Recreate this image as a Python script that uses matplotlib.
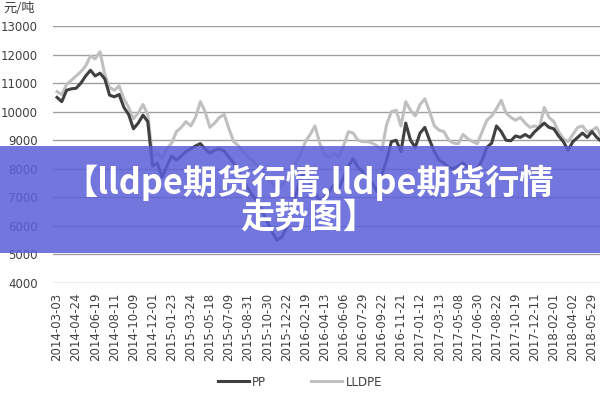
import numpy as np
import matplotlib
matplotlib.use("Agg")
import matplotlib.pyplot as plt
from matplotlib.patches import Rectangle

plt.rcParams['font.family'] = ['DejaVu Sans', 'Noto Sans CJK SC']

# tick labels (one every 4 samples)
tick_labels = [
    "2014-03-03", "2014-04-24", "2014-06-19", "2014-08-11", "2014-10-09", "2014-12-01",
    "2015-01-23", "2015-03-24", "2015-05-18", "2015-07-09", "2015-08-31", "2015-10-30",
    "2015-12-22", "2016-02-19", "2016-04-13", "2016-06-06", "2016-07-29", "2016-09-22",
    "2016-11-21", "2017-01-12", "2017-03-13", "2017-05-08", "2017-06-30", "2017-08-22",
    "2017-10-19", "2017-12-11", "2018-02-01", "2018-04-02", "2018-05-29",
]

# prices, yuan / ton
pp = [
    10500, 10350, 10750, 10800, 10820, 11000, 11250, 11450, 11250, 11350,
    11150, 10580, 10520, 10600, 10150, 9900, 9400, 9600, 9880, 9650,
    8100, 8200, 7700, 8100, 8450, 8300, 8450, 8600, 8700, 8800,
    8880, 8700, 8550, 8650, 8700, 8620, 8400, 8200, 7900, 7600,
    7300, 7050, 6850, 6500, 6150, 5800, 5500, 5600, 5900, 6500,
    7100, 7700, 7900, 7500, 7200, 6850, 7000, 7200, 7450, 7300,
    7700, 8100, 8350, 8050, 7900, 7650, 7500, 7200, 7800, 8300,
    8950, 9000, 8600, 9600, 9000, 8750, 9250, 9450, 9000, 8600,
    8300, 8200, 8050, 8000, 8100, 8200, 8050, 7950, 8000, 8300,
    8750, 8900, 9500, 9300, 9000, 8980, 9150, 9100, 9200, 9100,
    9300, 9450, 9600, 9450, 9400, 9150, 8950, 8650, 8950, 9100,
    9250, 9100, 9300, 9100, 8950,
]
lldpe = [
    10700, 10600, 10950, 11100, 11250, 11400, 11600, 11950, 11850, 12100,
    11300, 10850, 10750, 10900, 10450, 10150, 9750, 9950, 10250, 9900,
    8400, 8550, 8350, 8700, 8900, 9300, 9450, 9650, 9500, 9800,
    10350, 10000, 9450, 9600, 9800, 9900, 9400, 8950, 8800, 8600,
    8400, 8300, 8100, 7900, 7700, 7500, 7300, 7400, 7600, 7900,
    8200, 8500, 8950, 9200, 9500, 8900, 8500, 8400, 8550, 8400,
    8800, 9300, 9250, 9000, 8950, 8950, 8900, 8800, 8650, 9550,
    10000, 10050, 9500, 10350, 10050, 9850, 10250, 10450, 10000, 9500,
    9350, 9300, 9000, 8900, 8880, 9200, 9050, 8950, 8880, 9300,
    9700, 9850, 10100, 10400, 9950, 9800, 9700, 9800, 9600, 9450,
    9500, 9450, 10150, 9800, 9650, 9300, 9050, 8950, 9200, 9450,
    9500, 9280, 9350, 9450, 9100,
]
yticks = [4000, 5000, 6000, 7000, 8000, 9000, 10000, 11000, 12000, 13000]

fig = plt.figure(figsize=(6, 4), dpi=100)
ax = fig.add_axes([53 / 600, 1 - 283 / 400, 550 / 600, 257 / 400])

x = np.arange(len(pp))
ax.plot(x, pp, color="#404040", lw=2.2, label="PP", zorder=3)
ax.plot(x, lldpe, color="#c0c0c0", lw=2.2, label="LLDPE", zorder=2)

ax.set_ylim(4000, 13000)
ax.set_xlim(-0.84, 114.3)
ax.set_yticks(yticks)
ax.set_yticklabels([str(v) for v in yticks])
ax.set_xticks(np.arange(0, 4 * len(tick_labels), 4))
ax.set_xticklabels(tick_labels, rotation=90)
ax.tick_params(axis="both", length=0, labelsize=8.5, labelcolor="#404040")
ax.tick_params(axis="y", pad=11)
ax.tick_params(axis="x", pad=7)
ax.grid(axis="y", color="#a0a0a0", lw=1)
ax.set_axisbelow(True)
for s in ax.spines.values():
    s.set_visible(False)

fig.text(35 / 600, 1 - 8 / 400, "元/吨", ha="right", va="center", fontsize=9.5,
         color="#404040", family=["Noto Sans CJK SC", "DejaVu Sans"])

fig.legend(loc="center", bbox_to_anchor=(0.5, 1 - 382 / 400), ncol=2, frameon=False,
           fontsize=8.5, handlelength=2.6, handletextpad=0.3, columnspacing=3.8,
           labelcolor="#404040")

# banner over the chart
fig.patches.append(Rectangle((0, 1 - 253 / 400), 1, 107 / 400, transform=fig.transFigure,
                             facecolor="#5b5fd8", alpha=0.85, edgecolor="none", zorder=10))
cjk = ["Noto Sans CJK SC", "DejaVu Sans"]
fig.text(0.515, 1 - 183 / 400, "【lldpe期货行情,lldpe期货行情", ha="center", va="center",
         fontsize=24.7, fontweight="heavy", color="white", family=cjk, zorder=11)
fig.text(0.515, 1 - 217 / 400, "走势图】", ha="center", va="center",
         fontsize=24.7, fontweight="heavy", color="white", family=cjk, zorder=11)

fig.savefig("out.png", dpi=100)
